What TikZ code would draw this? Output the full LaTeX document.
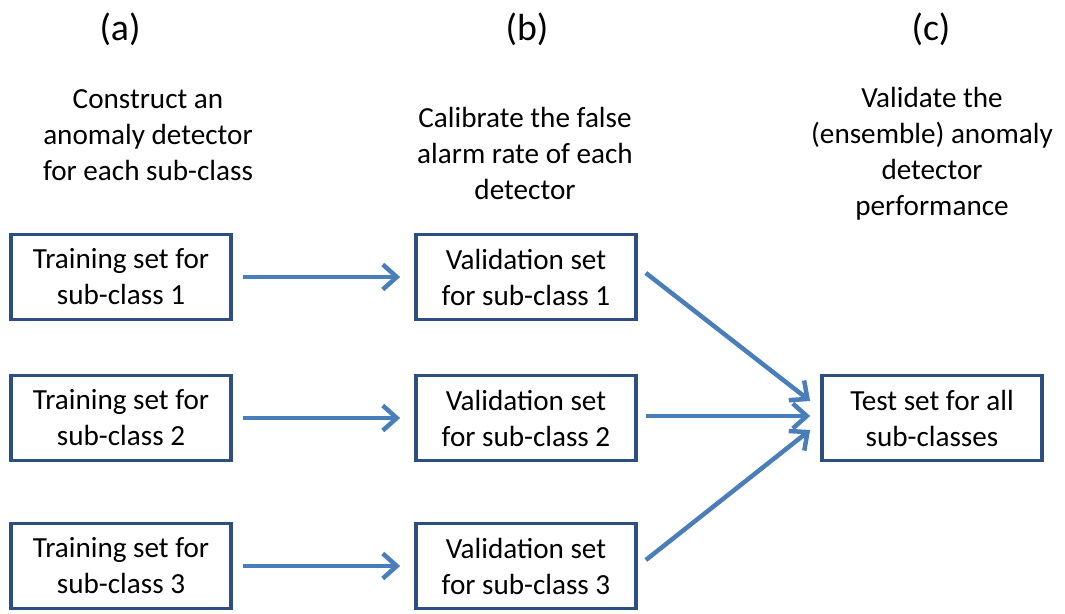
\documentclass[tikz,border=0pt]{standalone}
\usepackage{fontspec}
\setmainfont{Carlito}
\usepackage{xcolor}
\definecolor{boxblue}{HTML}{2B4F81}
\definecolor{flowblue}{HTML}{4A7EBB}
\usetikzlibrary{arrows.meta,positioning}

\begin{document}
\begin{tikzpicture}[
		x=0.02cm,
		y=-0.02cm,
		set/.style={draw=boxblue, line width=0.075cm, minimum width=4.4cm, minimum height=1.7cm,
			align=center, inner sep=0pt, font=\fontsize{16.6}{20.5}\selectfont},
		head/.style={align=center, inner sep=0pt, font=\fontsize{16.6}{20.5}\selectfont},
		tag/.style={inner sep=0pt, font=\fontsize{21.5}{24}\selectfont},
		flow/.style={flowblue, line width=0.09cm, -{Straight Barb[length=0.28cm,width=0.5cm]}}
	]
	\useasboundingbox (0,0) rectangle (1065,613);

	% column tags
	\node[tag] (ta) at (120,29) {(a)};
	\node[tag] (tb) at (527,29) {(b)};
	\node[tag] (tc) at (931,29) {(c)};

	% column headings
	\node[head] (ha) at (148,135) {Construct an\\anomaly detector\\for each sub-class};
	\node[head] (hb) at (525,153) {Calibrate the false\\alarm rate of each\\detector};
	\node[head] (hc) at (932,154) {Validate the\\(ensemble) anomaly\\detector\\performance};

	% training sets
	\node[set] (a1) at (121,277) {Training set for\\sub-class 1};
	\node[set] (a2) at (121,418) {Training set for\\sub-class 2};
	\node[set] (a3) at (121,566) {Training set for\\sub-class 3};

	% validation sets
	\node[set] (b1) at (526,277) {Validation set\\for sub-class 1};
	\node[set] (b2) at (526,418) {Validation set\\for sub-class 2};
	\node[set] (b3) at (526,566) {Validation set\\for sub-class 3};

	% test set
	\node[set] (c) at (932,418) {Test set for all\\sub-classes};

	% arrows
	\draw[flow] ([xshift=0.2cm]a1.east) -- ([xshift=-0.28cm]b1.west);
	\draw[flow] ([xshift=0.2cm]a2.east) -- ([xshift=-0.28cm]b2.west);
	\draw[flow] ([xshift=0.2cm]a3.east) -- ([xshift=-0.28cm]b3.west);
	\draw[flow] ([shift={(0.16cm,0.08cm)}]b1.east) -- ([shift={(-0.2cm,0.34cm)}]c.west);
	\draw[flow] ([shift={(0.16cm,0.04cm)}]b2.east) -- ([shift={(-0.2cm,0.04cm)}]c.west);
	\draw[flow] ([shift={(0.16cm,0.12cm)}]b3.east) -- ([shift={(-0.2cm,-0.24cm)}]c.west);
\end{tikzpicture}
\end{document}
